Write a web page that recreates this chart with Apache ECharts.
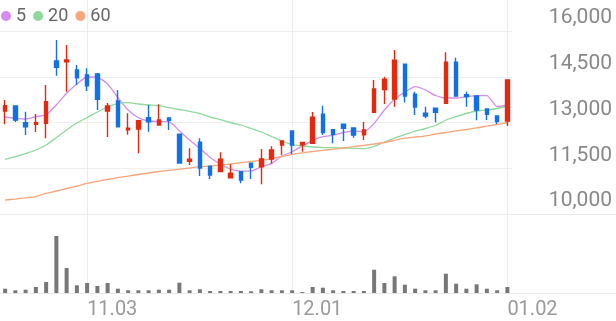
<!DOCTYPE html>
<html>
<head>
<meta charset="utf-8">
<script src="https://cdn.jsdelivr.net/npm/echarts/dist/echarts.min.js"></script>
<style>
html,body{margin:0;padding:0;background:#fff;}
#c{width:616px;height:321px;}
</style>
</head>
<body>
<div id="c"></div>
<script>
const dates = ['10.22','10.23','10.24','10.27','10.28','10.29','10.30','10.31',
  '11.03','11.04','11.05','11.06','11.07','11.10','11.11','11.12','11.13','11.14',
  '11.17','11.18','11.19','11.20','11.21','11.24','11.25','11.26','11.27','11.28',
  '12.01','12.02','12.03','12.04','12.05','12.08','12.09','12.10','12.11','12.12',
  '12.15','12.16','12.17','12.18','12.19','12.22','12.23','12.24','12.26','12.29','12.30',
  '01.02'];
const xTickLabels = ['11.03','12.01','01.02'];
const yTicks = [10000, 11500, 13000, 14500, 16000];

const opens  = [13377,13541,12993,12941,12973,15016,14993,14721,14557,14590,
                13377,13705,12764,12787,13157,12918,13147,12613,11728,12351,
                11564,11393,11190,11387,11662,11550,11803,12262,12721,12269,
                12318,13272,12764,12941,12820,12600,13334,14082,13770,14908,
                13924,13301,13465,13629,14974,13911,13869,13442,13213,13049];
const closes = [13551,13082,12862,12993,13682,14810,15049,14469,14206,13760,
                13541,12862,12810,13059,13026,13082,13072,11672,11793,11508,
                11278,11793,11334,11114,11531,11803,12098,12393,12262,12344,
                13170,12672,12613,12810,12590,12754,14098,14420,15039,13869,
                13508,13213,13334,14974,13869,13852,13410,13268,13032,14393];
const lows   = [12941,13016,12590,12688,12482,14534,14010,14229,14033,13410,
                12524,12850,12600,11990,12698,12905,12754,11660,11606,11245,
                11147,11390,11185,11006,11147,10973,11655,11934,11967,12042,
                12315,12590,12318,12393,12501,12426,13330,13606,13518,13655,
                13246,13137,13006,13625,13865,13518,13072,13082,12950,12885];
const highs  = [13737,13560,13354,13278,14229,15705,15541,14885,14777,14620,
                13639,14065,13301,13070,13574,13597,13150,12620,12154,12482,
                11580,12023,11629,11390,11665,12131,12219,12400,12725,12350,
                13344,13551,12770,12945,12825,13016,14393,14502,15377,14910,
                14010,13518,13470,15302,15125,14010,13872,13445,13215,14395];
const volumes = [43000,27000,33000,60000,110000,570000,250000,77000,100000,70000,
                 100000,43000,27000,27000,27000,33000,33000,103000,27000,37000,
                 20000,20000,20000,20000,17000,37000,27000,27000,27000,10000,
                 60000,53000,27000,20000,20000,20000,233000,100000,167000,83000,
                 43000,27000,27000,193000,93000,43000,87000,43000,27000,60000];
const ma5  = [13180,13138,13115,13190,13256,13574,13957,14262,14492,14482,
              14262,13820,13410,13157,13049,13032,13026,12728,12426,12154,
              11852,11639,11475,11409,11409,11550,11662,11901,12042,12229,
              12416,12534,12580,12672,12728,12698,12973,13410,13764,14000,
              14174,14065,13885,13803,13803,13846,13879,13879,13518,13574];
const ma20 = [11787,11885,11983,12098,12262,12508,12754,12983,13164,13344,
              13508,13629,13649,13606,13574,13551,13485,13426,13367,13295,
              13180,13098,13000,12918,12803,12688,12541,12393,12278,12229,
              12196,12180,12173,12164,12154,12141,12213,12360,12491,12606,
              12721,12803,12901,13082,13196,13295,13377,13410,13459,13541];
const ma60 = [10459,10491,10531,10573,10678,10754,10836,10918,11006,11072,
              11131,11190,11245,11295,11344,11393,11432,11468,11508,11550,
              11573,11606,11639,11682,11721,11760,11809,11885,11957,12006,
              12049,12088,12124,12164,12206,12252,12295,12344,12416,12485,
              12524,12564,12623,12672,12728,12770,12826,12878,12934,13000];

const RED = '#e5290f';
const BLUE = '#1270e8';
const FONT = 'Roboto';

const chart = echarts.init(document.getElementById('c'));
const hiddenCat = (g) => ({
  type: 'category', gridIndex: g, data: dates, boundaryGap: true,
  axisLine: {show: false}, axisTick: {show: false}, axisLabel: {show: false}, splitLine: {show: false}
});
const isTick = (i, v) => xTickLabels.indexOf(v) >= 0;

chart.setOption({
  animation: false,
  legend: {
    left: 1, top: 7, padding: 0, itemWidth: 10, itemHeight: 10, itemGap: 7, icon: 'circle',
    data: ['5', '20', '60'],
    textStyle: {fontSize: 18, color: '#666', fontFamily: FONT}
  },
  grid: [
    {left: 0, right: 103.5, top: 31, height: 183},
    {left: 0, right: 103.5, top: 223, height: 70},
    {left: 5.125, right: 108.625, top: 0, height: 293}
  ],
  xAxis: [
    hiddenCat(0),
    hiddenCat(1),
    {
      type: 'category', gridIndex: 2, data: dates, boundaryGap: false,
      axisLine: {show: false}, axisTick: {show: false},
      splitLine: {show: true, interval: isTick, lineStyle: {color: '#ececec', width: 1}},
      axisLabel: {interval: isTick, align: 'left', margin: 7, fontSize: 20, color: '#9a9a9a', fontFamily: FONT}
    }
  ],
  yAxis: [
    {
      type: 'value', gridIndex: 0, position: 'right',
      min: yTicks[0], max: yTicks[yTicks.length - 1], interval: yTicks[1] - yTicks[0],
      axisLine: {show: false}, axisTick: {show: false},
      splitLine: {lineStyle: {color: '#efefef', width: 1}},
      axisLabel: {
        margin: 99.5, align: 'right', verticalAlign: 'bottom', lineHeight: 26,
        fontSize: 21, color: '#888', fontFamily: FONT,
        formatter: v => v.toLocaleString('en-US')
      }
    },
    {type: 'value', gridIndex: 1, min: 0, max: 700000, show: false},
    {type: 'value', gridIndex: 2, show: false}
  ],
  graphic: [
    {type: 'line', silent: true, shape: {x1: 0, y1: 214.5, x2: 616, y2: 214.5}, style: {stroke: '#e9e9e9', lineWidth: 1}},
    {type: 'line', silent: true, shape: {x1: 0, y1: 293.5, x2: 616, y2: 293.5}, style: {stroke: '#e9e9e9', lineWidth: 1}}
  ],
  series: [
    {name: '5', type: 'line', xAxisIndex: 0, yAxisIndex: 0, data: ma5, symbol: 'none', smooth: 0.2,
     lineStyle: {width: 1.3, color: '#d58bed'}, itemStyle: {color: '#d58bed'}, z: 2},
    {name: '20', type: 'line', xAxisIndex: 0, yAxisIndex: 0, data: ma20, symbol: 'none', smooth: 0.2,
     lineStyle: {width: 1.3, color: '#8ed99b'}, itemStyle: {color: '#8ed99b'}, z: 2},
    {name: '60', type: 'line', xAxisIndex: 0, yAxisIndex: 0, data: ma60, symbol: 'none', smooth: 0.2,
     lineStyle: {width: 1.3, color: '#f7a57b'}, itemStyle: {color: '#f7a57b'}, z: 2},
    {name: 'price', type: 'candlestick', xAxisIndex: 0, yAxisIndex: 0,
     data: opens.map((o, i) => [o, closes[i], lows[i], highs[i]]),
     barWidth: 4,
     itemStyle: {color: RED, color0: BLUE, borderColor: RED, borderColor0: BLUE, borderWidth: 1.4}, z: 3},
    {name: 'volume', type: 'bar', xAxisIndex: 1, yAxisIndex: 1, data: volumes, barWidth: 4,
     itemStyle: {color: '#777777'}}
  ]
});
</script>
</body>
</html>
